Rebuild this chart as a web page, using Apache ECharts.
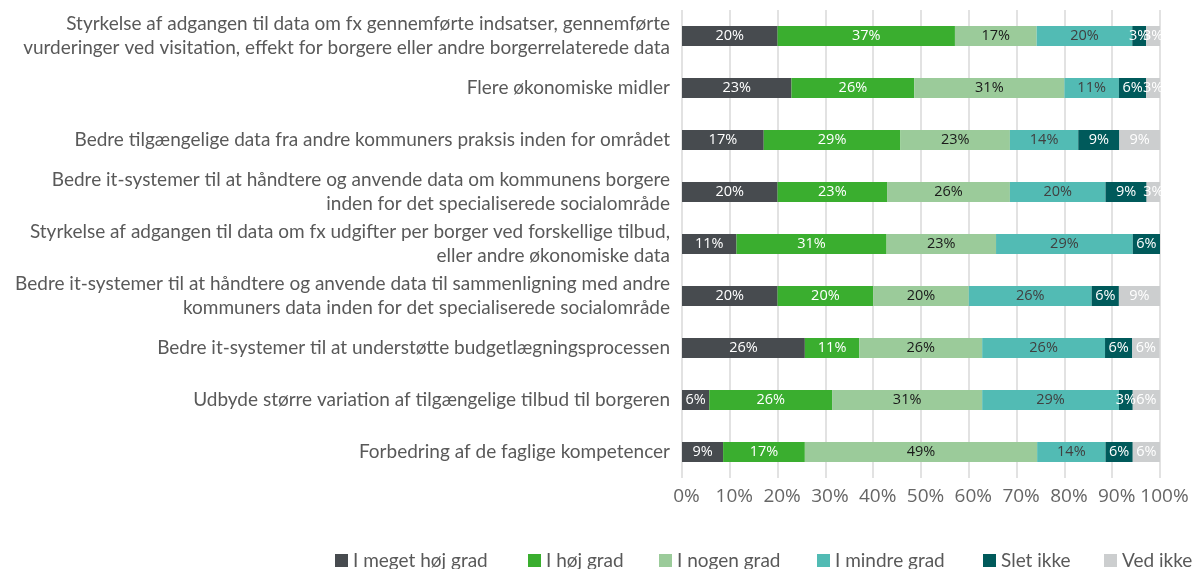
<!DOCTYPE html>
<html>
<head>
<meta charset="utf-8">
<script src="https://cdn.jsdelivr.net/npm/echarts@6/dist/echarts.min.js"></script>
<style>
html,body{margin:0;padding:0;background:#fff;}
#chart{width:1194px;height:569px;}
</style>
</head>
<body>
<div id="chart"></div>
<script>
const categories = [
  "Styrkelse af adgangen til data om fx gennemførte indsatser, gennemførte\nvurderinger ved visitation, effekt for borgere eller andre borgerrelaterede data",
  "Flere økonomiske midler",
  "Bedre tilgængelige data fra andre kommuners praksis inden for området",
  "Bedre it-systemer til at håndtere og anvende data om kommunens borgere\ninden for det specialiserede socialområde",
  "Styrkelse af adgangen til data om fx udgifter per borger ved forskellige tilbud,\neller andre økonomiske data",
  "Bedre it-systemer til at håndtere og anvende data til sammenligning med andre\nkommuners data inden for det specialiserede socialområde",
  "Bedre it-systemer til at understøtte budgetlægningsprocessen",
  "Udbyde større variation af tilgængelige tilbud til borgeren",
  "Forbedring af de faglige kompetencer"
];
const seriesNames = ["I meget høj grad", "I høj grad", "I nogen grad", "I mindre grad", "Slet ikke", "Ved ikke"];
const meget_hoej = [20.0, 22.9, 17.1, 20.0, 11.4, 20.0, 25.7, 5.7, 8.6];
const hoej       = [37.1, 25.7, 28.6, 22.9, 31.4, 20.0, 11.4, 25.7, 17.1];
const nogen      = [17.1, 31.4, 22.9, 25.7, 22.9, 20.0, 25.7, 31.4, 48.6];
const mindre     = [20.0, 11.4, 14.3, 20.0, 28.6, 25.7, 25.7, 28.6, 14.3];
const slet_ikke  = [2.9, 5.7, 8.6, 8.6, 5.7, 5.7, 5.7, 2.9, 5.7];
const ved_ikke   = [2.9, 2.9, 8.6, 2.9, 0, 8.6, 5.7, 5.7, 5.7];
const xTicks = [0, 10, 20, 30, 40, 50, 60, 70, 80, 90, 100];

const seriesData = [meget_hoej, hoej, nogen, mindre, slet_ikke, ved_ikke];
const colors = ["#474b4f", "#3aae2f", "#9bcb9a", "#52bbb4", "#005a5b", "#cccecf"];
const labelColors = ["#ffffff", "#ffffff", "#1a1a1a", "#404040", "#ffffff", "#ffffff"];
const legendLefts = [330, 523, 654, 812, 978, 1099];

const chart = echarts.init(document.getElementById('chart'));
chart.setOption({
  animation: false,
  color: colors,
  grid: { left: 682, right: 34, top: 10, bottom: 91, containLabel: false },
  xAxis: {
    type: 'value', min: xTicks[0], max: xTicks[xTicks.length - 1], interval: 10,
    axisLine: { show: false }, axisTick: { show: false },
    splitLine: { show: true, lineStyle: { color: '#d9d9d9', width: 1.5 } },
    axisLabel: { formatter: '{value}%', fontSize: 19, color: '#666666', margin: 9, fontFamily: 'Open Sans', padding: [0, 0, 0, 9] }
  },
  yAxis: {
    type: 'category', data: categories, inverse: true,
    axisLine: { show: false }, axisTick: { show: false },
    axisLabel: { fontSize: 19, color: '#595959', margin: 12, lineHeight: 24, align: 'right', fontFamily: 'Lato' }
  },
  legend: seriesNames.map((name, i) => ({
    data: [name], left: legendLefts[i], top: 546, width: 400, itemWidth: 13, itemHeight: 13,
    icon: 'rect',
    textStyle: { fontSize: 19, color: '#595959', fontFamily: 'Lato' }
  })),
  series: seriesNames.map((name, i) => ({
    name: name, type: 'bar', stack: 'total', barWidth: 20,
    data: seriesData[i],
    itemStyle: { color: colors[i] },
    label: {
      show: true, position: 'inside', fontSize: 14.5, fontFamily: 'Open Sans', color: labelColors[i],
      formatter: p => p.value > 0 ? Math.round(p.value) + '%' : ''
    }
  }))
});
</script>
</body>
</html>
